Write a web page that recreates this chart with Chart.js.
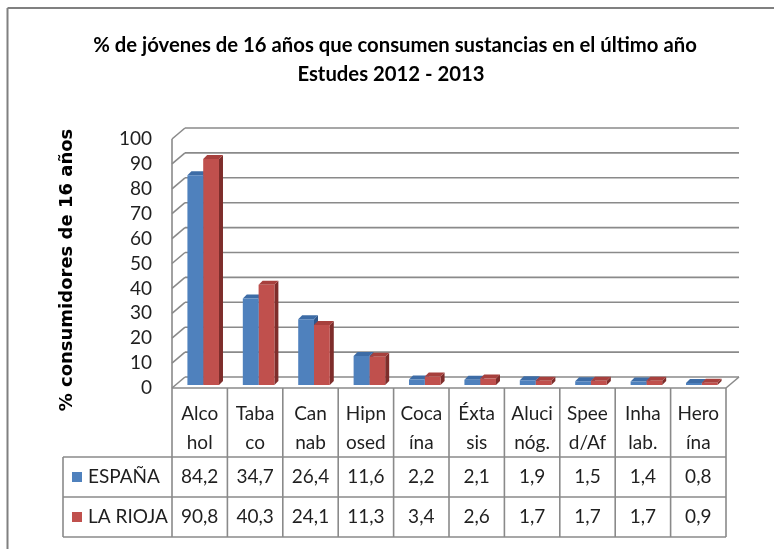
<!DOCTYPE html>
<html><head><meta charset="utf-8">
<script src="https://cdn.jsdelivr.net/npm/chart.js@4/dist/chart.umd.min.js"></script>
<style>html,body{margin:0;padding:0;background:#fff;}canvas{display:block;}</style>
</head><body>
<canvas id="c" width="774" height="549"></canvas>
<script>
const categories = [["Alco","hol"],["Taba","co"],["Can","nab"],["Hipn","osed"],["Coca","ína"],["Éxta","sis"],["Aluci","nóg."],["Spee","d/Af"],["Inha","lab."],["Hero","ína"]];
const seriesNames = ["ESPAÑA","LA RIOJA"];
const espana = [84.2,34.7,26.4,11.6,2.2,2.1,1.9,1.5,1.4,0.8];
const rioja  = [90.8,40.3,24.1,11.3,3.4,2.6,1.7,1.7,1.7,0.9];
const yTicks = [0,10,20,30,40,50,60,70,80,90,100];
const titleLines = ["% de jóvenes de 16 años que consumen sustancias en el último año","Estudes 2012 - 2013"];
const yAxisTitle = "% consumidores de 16 años";

const COLORS = {
  front: ["#4F81BD","#C0504D"],
  top:   ["#3D6CA6","#A7403D"],
  side:  ["#30578A","#7E2D2B"],
  grid: "#8A8A8A", text: "#1F1F1F", frame: "#808080"
};
const FRONT = {dx:-3.5, dy:3};
const BACK = {dx:9.5, dy:-8};
const DEPTH = {dx:4, dy:-4};
const FONT = "Lato, 'Open Sans', sans-serif";
const fmt = v => v.toFixed(1).replace('.', ',');

function line(ctx, x1, y1, x2, y2){ ctx.beginPath(); ctx.moveTo(x1,y1); ctx.lineTo(x2,y2); ctx.stroke(); }
function poly(ctx, pts, color){ ctx.beginPath(); ctx.moveTo(pts[0][0],pts[0][1]); for(let i=1;i<pts.length;i++) ctx.lineTo(pts[i][0],pts[i][1]); ctx.closePath(); ctx.fillStyle=color; ctx.fill(); }

const scene3d = {
  id: 'scene3d',
  beforeDatasetsDraw(chart){
    const ctx = chart.ctx, ys = chart.scales.y, a = chart.chartArea;
    ctx.save();
    // outer frame
    ctx.strokeStyle = COLORS.frame; ctx.lineWidth = 2;
    line(ctx, 7.5, 549, 7.5, 8); line(ctx, 7.5, 8, 774, 8);
    // back wall gridlines + left wall
    ctx.strokeStyle = COLORS.grid; ctx.lineWidth = 1.6;
    const xl = a.left, xr = a.right;
    yTicks.forEach(v => {
      const y = ys.getPixelForValue(v);
      line(ctx, xl + BACK.dx, y + BACK.dy, xr + BACK.dx, y + BACK.dy);
      line(ctx, xl + FRONT.dx, y + FRONT.dy, xl + BACK.dx, y + BACK.dy);
    });
    const yMaxF = ys.getPixelForValue(yTicks[yTicks.length-1]) + FRONT.dy;
    const y0 = ys.getPixelForValue(0);
    line(ctx, xl + FRONT.dx, yMaxF, xl + FRONT.dx, y0 + FRONT.dy);
    // floor
    line(ctx, xl + FRONT.dx, y0 + FRONT.dy, xr + FRONT.dx, y0 + FRONT.dy);
    line(ctx, xr + FRONT.dx, y0 + FRONT.dy, xr + BACK.dx, y0 + BACK.dy);
    // bar top and side faces
    chart.data.datasets.forEach((ds, di) => {
      chart.getDatasetMeta(di).data.forEach(el => {
        const p = el.getProps(['x','y','base','width'], true);
        const x0 = p.x - p.width/2, x1 = p.x + p.width/2;
        poly(ctx, [[x1,p.y],[x1+DEPTH.dx,p.y+DEPTH.dy],[x1+DEPTH.dx,p.base+DEPTH.dy],[x1,p.base]], COLORS.side[di]);
        poly(ctx, [[x0,p.y],[x1,p.y],[x1+DEPTH.dx,p.y+DEPTH.dy],[x0+DEPTH.dx,p.y+DEPTH.dy]], COLORS.top[di]);
      });
    });
    ctx.restore();
  },
  afterDraw(chart){
    const ctx = chart.ctx, xs = chart.scales.x, ys = chart.scales.y;
    ctx.save();
    // title
    ctx.fillStyle = "#000"; ctx.textAlign = "center"; ctx.textBaseline = "middle";
    ctx.font = "bold 20.3px " + FONT;
    ctx.fillText(titleLines[0], 395, 45);
    ctx.fillText(titleLines[1], 391, 74);
    // y axis title
    ctx.save();
    ctx.translate(67, 270); ctx.rotate(-Math.PI/2);
    ctx.font = "bold 18px 'DejaVu Sans', sans-serif";
    ctx.fillText(yAxisTitle, 0, 0);
    ctx.restore();
    // y tick labels
    ctx.fillStyle = COLORS.text; ctx.font = "19px " + FONT; ctx.textAlign = "right";
    yTicks.forEach(v => ctx.fillText(String(v), 152, ys.getPixelForValue(v) + FRONT.dy));
    // data table
    const catW = xs.getPixelForValue(1) - xs.getPixelForValue(0);
    const bx = i => xs.getPixelForValue(0) - catW/2 + i*catW + FRONT.dx;
    const yTop = ys.getPixelForValue(0) + FRONT.dy;
    const r1 = yTop + 69, r2 = r1 + 40, r3 = r2 + 40;
    const legL = 63;
    ctx.strokeStyle = COLORS.grid; ctx.lineWidth = 1.6;
    for (let i = 0; i <= categories.length; i++) line(ctx, bx(i), yTop, bx(i), r3);
    line(ctx, legL, r1, bx(categories.length), r1);
    line(ctx, legL, r2, bx(categories.length), r2);
    line(ctx, legL, r3, bx(categories.length), r3);
    line(ctx, legL, r1, legL, r3);
    ctx.textAlign = "center"; ctx.fillStyle = COLORS.text;
    categories.forEach((c, i) => {
      const cx = bx(i) + catW/2;
      ctx.fillText(c[0], cx, yTop + 26);
      ctx.fillText(c[1], cx, yTop + 55);
      ctx.fillText(fmt(espana[i]), cx, r1 + 20);
      ctx.fillText(fmt(rioja[i]), cx, r2 + 20);
    });
    // legend keys
    ctx.textAlign = "left";
    [r1, r2].forEach((ry, k) => {
      ctx.fillStyle = COLORS.front[k];
      ctx.fillRect(72, ry + 15, 10, 10);
      ctx.fillStyle = COLORS.text;
      ctx.fillText(seriesNames[k], 88, ry + 20);
    });
    ctx.restore();
  }
};

new Chart(document.getElementById('c'), {
  type: 'bar',
  data: {
    labels: categories,
    datasets: [
      {label: seriesNames[0], data: espana, backgroundColor: COLORS.front[0], borderWidth: 0},
      {label: seriesNames[1], data: rioja, backgroundColor: COLORS.front[1], borderWidth: 0}
    ]
  },
  options: {
    responsive: false, animation: false, devicePixelRatio: 1,
    layout: {padding: {left: 175.5, right: 44.5, top: 136, bottom: 164}},
    datasets: {bar: {categoryPercentage: 0.57, barPercentage: 1}},
    scales: {
      x: {display: false},
      y: {display: false, min: 0, max: 100}
    },
    plugins: {legend: {display: false}, title: {display: false}, tooltip: {enabled: false}}
  },
  plugins: [scene3d]
});
</script>
</body></html>
